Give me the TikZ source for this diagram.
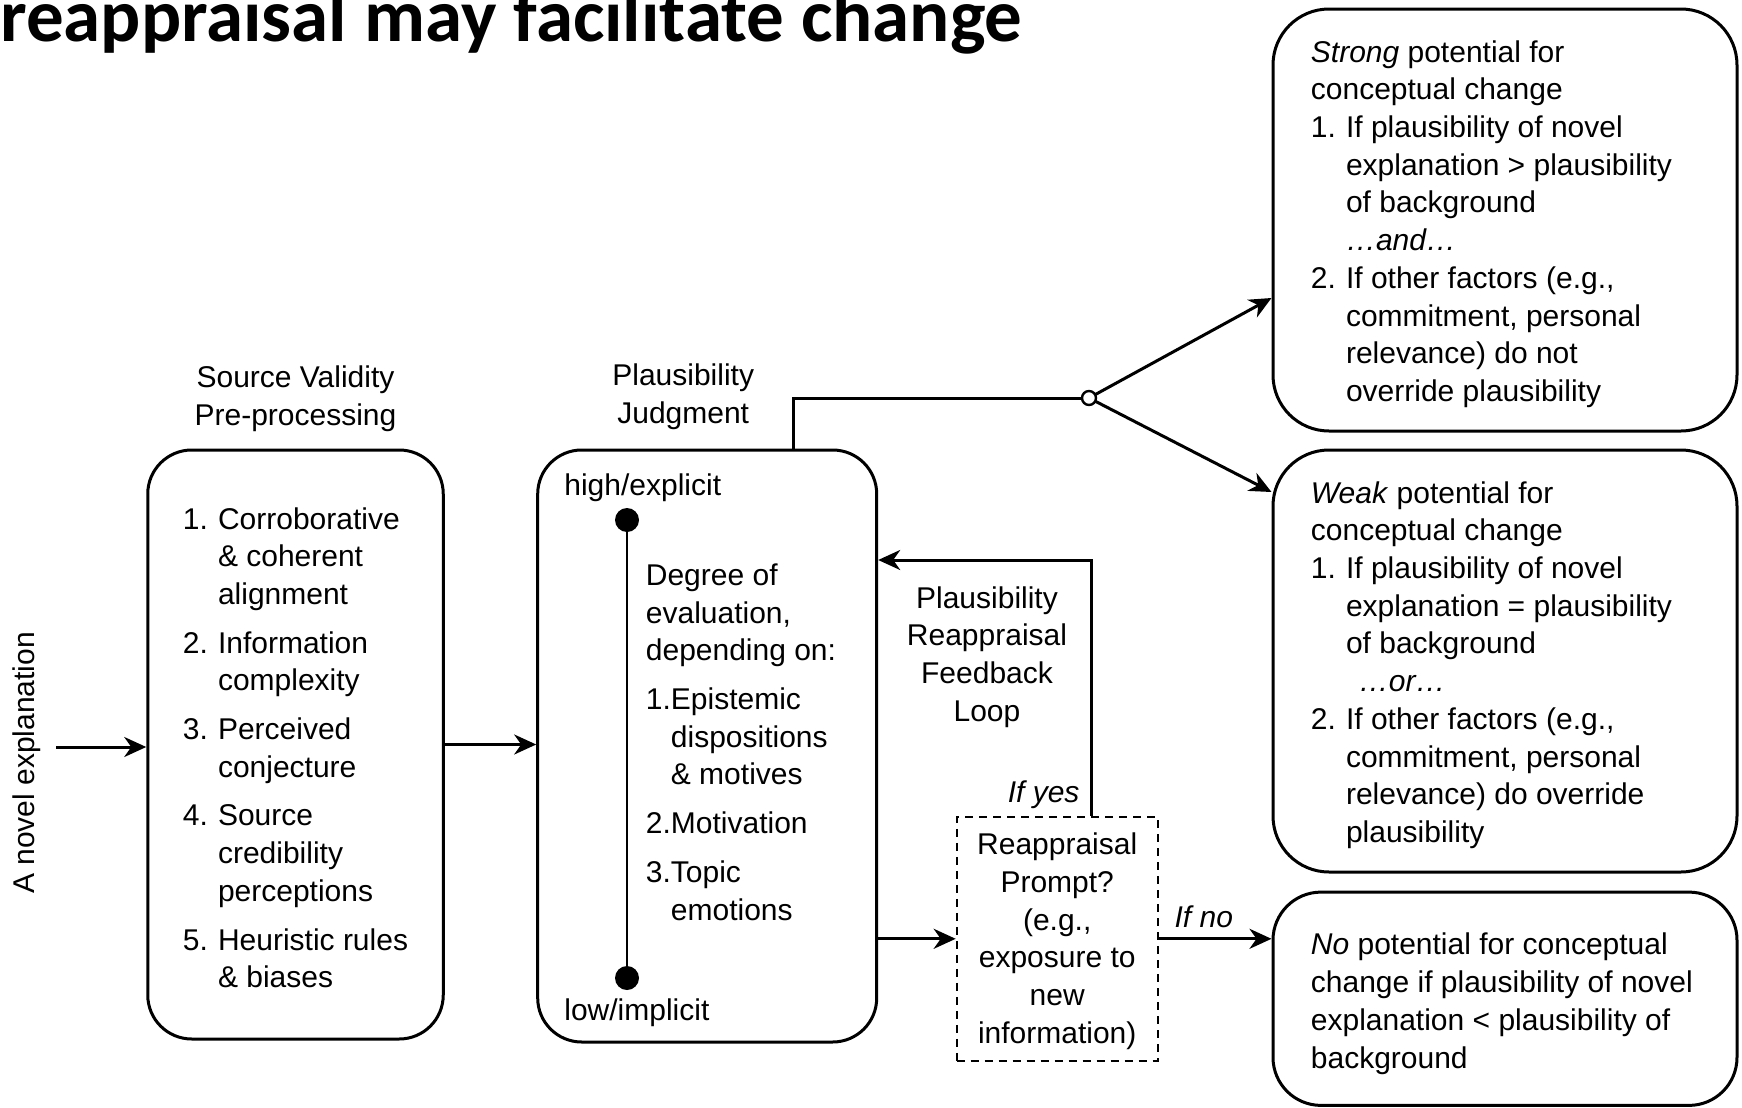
\documentclass[tikz,border=0pt]{standalone}
\usepackage{fontspec}
\setmainfont{Liberation Sans}
\newfontfamily\titlefont{Carlito}
\usetikzlibrary{%
  positioning,%
  arrows.meta%
}
\newcommand{\lnum}[1]{\makebox[1.17em][l]{#1}}
\newcommand{\lind}{\hspace*{1.17em}}

\begin{document}
\begin{tikzpicture}[
      x=0.5pt, y=-0.5pt,
      every node/.style={font=\fontsize{15}{18.85}\selectfont},
      box/.style={
        draw,
        line width=1.5pt,
        rounded corners=#1,
        inner sep=0pt
      },
      box/.default=22pt,
      outcome/.style={
        box=28pt,
        minimum width=232pt
      },
      outtext/.style={align=left, inner sep=0pt},
      heading/.style={align=center, inner sep=0pt},
      prompt/.style={
        draw,
        line width=1pt,
        dash pattern=on 4pt off 3pt,
        minimum width=100.5pt,
        minimum height=122pt,
        align=center,
        inner sep=0pt
      },
      flow/.style={
        -{Stealth[length=11pt,width=10pt,inset=3.5pt]},
        line width=1.5pt
      },
      dot/.style={circle, fill, inner sep=0pt, minimum size=12pt},
      junction/.style={circle, draw, fill=white, line width=1.2pt,
        inner sep=0pt, minimum size=7pt}
    ]
    \useasboundingbox (0,0) rectangle (1742,1108);

    \node[anchor=base west, inner sep=0pt,
      font={\titlefont\bfseries\fontsize{37.5}{44}\selectfont}]
      (title) at (0,41) {reappraisal may facilitate change};

    % input
    \node[rotate=90, inner sep=0pt] (novel) at (27,763) {A novel explanation};
    \coordinate (novelin) at (56,747);

    % source validity
    \node[box, minimum width=147.75pt, minimum height=294.5pt, align=left]
      (Source) at (295.5,744.5)
      {\rule{0pt}{14pt}\lnum{1.}Corroborative\\
      \lind\& coherent\\
      \lind alignment\\[5.5pt]
      \lnum{2.}Information\\
      \lind complexity\\[5.5pt]
      \lnum{3.}Perceived\\
      \lind conjecture\\[5.5pt]
      \lnum{4.}Source\\
      \lind credibility\\
      \lind perceptions\\[5.5pt]
      \lnum{5.}Heuristic rules\\
      \lind\& biases};
    \node[heading, above=8.3pt of Source] (SourceLabel)
      {Source Validity\\Pre-processing};

    % plausibility judgment
    \node[box, minimum width=169.5pt, minimum height=296pt]
      (Judge) at (707.2,746) {};
    \node[heading, above=9.3pt of Judge, xshift=-12pt] (JudgeLabel)
      {Plausibility\\Judgment};
    \node[anchor=west, inner sep=0pt] (high) at (564,488) {high/explicit};
    \node[anchor=west, inner sep=0pt] (low) at (564,1013) {low/implicit};
    \node[dot] (hidot) at (627,520) {};
    \node[dot] (lodot) at (627,978) {};
    \draw[line width=1.25pt] (hidot) -- (lodot);
    \node[outtext, anchor=west] (degree) at (645.5,742)
      {Degree of\\
      evaluation,\\
      depending on:\\[5.5pt]
      1.Epistemic\\
      \phantom{1.}dispositions\\
      \phantom{1.}\& motives\\[5.5pt]
      2.Motivation\\[5.5pt]
      3.Topic\\
      \phantom{1.}emotions};

    % reappraisal prompt
    \node[prompt] (Prompt) at (1057.2,938.8)
      {\rule{0pt}{13.2pt}Reappraisal\\Prompt?\\(e.g.,\\exposure to\\new\\information)};
    \node[heading] (LoopLabel) at (987,657)
      {Plausibility\\Reappraisal\\Feedback\\Loop};

    % outcomes
    \node[outcome, minimum height=211pt] (Strong) at (1505,220) {};
    \node[outtext, right=19.5pt of Strong.west, yshift=-2pt] (StrongText)
      {\textit{Strong} potential for\\
      conceptual change\\
      \lnum{1.}If plausibility of novel\\
      \lind explanation > plausibility\\
      \lind of background\\
      \lind\textit{…and…}\\
      \lnum{2.}If other factors (e.g.,\\
      \lind commitment, personal\\
      \lind relevance) do not\\
      \lind override plausibility};

    \node[outcome, minimum height=211pt] (Weak) at (1505,661) {};
    \node[outtext, right=19.5pt of Weak.west, yshift=-2pt] (WeakText)
      {\textit{Weak} potential for\\
      conceptual change\\
      \lnum{1.}If plausibility of novel\\
      \lind explanation = plausibility\\
      \lind of background\\
      \hspace*{1.6em}\textit{…or…}\\
      \lnum{2.}If other factors (e.g.,\\
      \lind commitment, personal\\
      \lind relevance) do override\\
      \lind plausibility};

    \node[outcome, rounded corners=24pt, minimum height=106.65pt]
      (No) at (1505,998.75) {};
    \node[outtext, right=19.5pt of No.west, yshift=-2.5pt] (NoText)
      {\textit{No} potential for conceptual\\
      change if plausibility of novel\\
      explanation < plausibility of\\
      background};

    % connectors
    \coordinate (split) at (1089,398);
    \draw[flow] (novelin) -- (novelin -| Source.west);
    \draw[flow] (Source.east) -- (Source.east -| Judge.west);
    \draw[flow] (Judge.east |- Prompt.west) -- (Prompt.west);
    \draw[flow] (Prompt.east) -- (Prompt.east -| No.west)
      node[pos=0.4, above=5pt, inner sep=0pt, font=\fontsize{15}{18.85}\selectfont\itshape] {If no};
    \draw[flow] ([xshift=16.9pt]Prompt.north) |- ([yshift=93pt]Judge.east)
      node[pos=0, anchor=south east, xshift=-5pt, yshift=3pt, inner sep=0pt,
        font=\fontsize{15}{18.85}\selectfont\itshape] {If yes};
    \draw[line width=1.5pt] ([xshift=42.9pt]Judge.north) |- (split);
    \draw[flow] (split) -- ([yshift=-39pt]Strong.west);
    \draw[flow] (split) -- ([yshift=84.5pt]Weak.west);
    \node[junction] (splitdot) at (split) {};
  \end{tikzpicture}
\end{document}
